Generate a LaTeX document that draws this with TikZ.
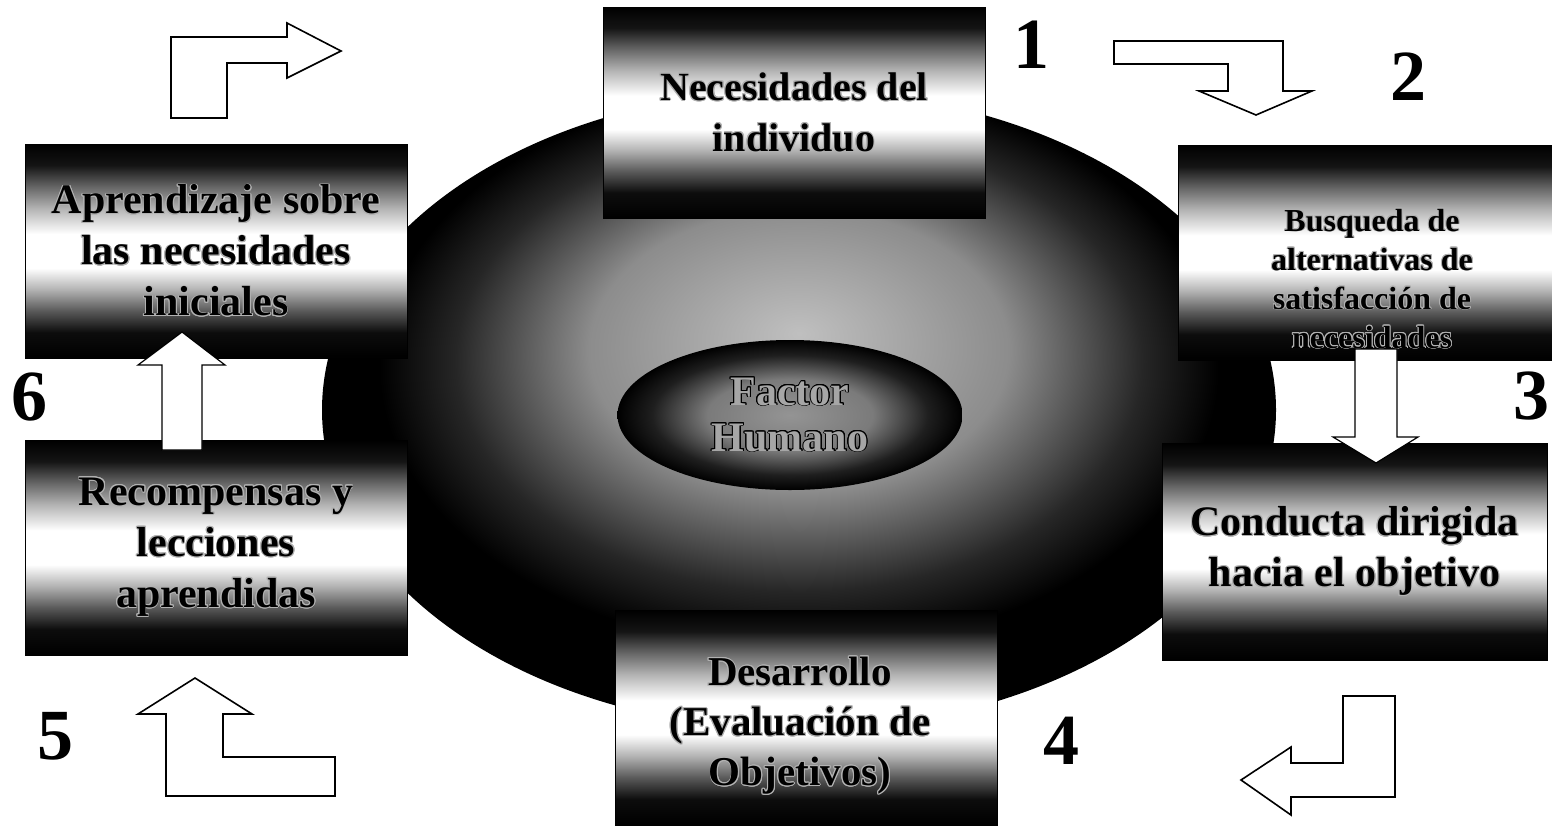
\documentclass[tikz,border=0pt]{standalone}
\usepackage{fontspec}
\setmainfont{Liberation Serif}
\usepackage[copies]{contour}
\contourlength{0.9pt}
\usetikzlibrary{shapes.geometric}
\pgfdeclareverticalshading{bandshade}{100bp}{color(0bp)=(black); color(25bp)=(black); color(31bp)=(black!95); color(36bp)=(black!65); color(41bp)=(black!30); color(46bp)=(white); color(54bp)=(white); color(60bp)=(black!30); color(65bp)=(black!60); color(70bp)=(black!92); color(75bp)=(black); color(100bp)=(black)}
\pgfdeclareradialshading{halo}{\pgfpoint{0bp}{6bp}}{color(0bp)=(black!25); color(11bp)=(black!45); color(18bp)=(black!85); color(22bp)=(black); color(50bp)=(black)}
\pgfdeclareradialshading{core}{\pgfpoint{0bp}{0bp}}{color(0bp)=(black!42); color(12bp)=(black!52); color(20bp)=(black!88); color(25bp)=(black); color(50bp)=(black)}
\newcommand\glow[1]{\contour{black!30}{#1}}
\begin{document}
\begin{tikzpicture}[x=1pt,y=-1pt,
  box/.style={draw=black, line width=0.8pt, shading=bandshade, inner sep=0pt, align=center,
    font=\fontsize{42}{51}\selectfont\bfseries},
  boxtext/.style={inner sep=0pt, align=center, font=\fontsize{41}{50}\selectfont\bfseries},
  num/.style={inner sep=0pt, font=\fontsize{72}{72}\selectfont\bfseries},
  bent/.style={draw=black, line width=1.6pt, fill=white, line join=miter},
  flow/.style={draw=black, line width=1.2pt, fill=white, line join=miter}]
\useasboundingbox (0,0) rectangle (1552,825);
\fill[white] (0,0) rectangle (1552,825);

% big ellipse
\node[ellipse, minimum width=954pt, minimum height=640pt, inner sep=0pt, shading=halo] (outer) at (799,410) {};
% inner ellipse
\node[ellipse, minimum width=345pt, minimum height=150pt, inner sep=0pt, shading=core, align=center,
  font=\fontsize{42}{46}\selectfont\bfseries, text=black!35] (core) at (790,415)
  {\contour{black}{Factor}\\\contour{black}{Humano}};

% boxes
\node[box, minimum width=382pt, minimum height=211pt, font=\fontsize{40}{51}\selectfont\bfseries] (needs) at (794,112.5)
  {\glow{Necesidades del}\\\glow{individuo}};
\node[box, minimum width=375pt, minimum height=215pt] (search) at (1365.5,252.5) {};
\node[boxtext, font=\fontsize{32}{39}\selectfont\bfseries] (searchtxt) at (1372,279)
  {\glow{Busqueda de}\\\glow{alternativas de}\\\glow{satisfacción de}\\\glow{necesidades}};
\node[box, minimum width=385pt, minimum height=217pt] (conduct) at (1354.5,551.5)
  {\glow{Conducta dirigida}\\\glow{hacia el objetivo}};
\node[box, minimum width=382pt, minimum height=215pt] (develop) at (806,717.5) {};
\node[boxtext] (developtxt) at (800,726)
  {\glow{Desarrollo}\\\glow{(Evaluación de}\\\glow{Objetivos)}};
\node[box, minimum width=382pt, minimum height=215pt] (reward) at (216,547.5)
  {\glow{Recompensas y}\\\glow{lecciones}\\\glow{aprendidas}};
\node[box, minimum width=382pt, minimum height=214pt] (learn) at (216,251)
  {\glow{Aprendizaje sobre}\\\glow{las necesidades}\\\glow{iniciales}};

% straight arrows between boxes
\draw[flow] (162,450) -- (162,365) -- (138,365) -- (182,332) -- (225,365) -- (202,365) -- (202,450) -- cycle;
\draw[flow] (1355,349) -- (1397,349) -- (1397,437) -- (1418,437) -- (1376,463) -- (1333,437) -- (1355,437) -- cycle;

% bent arrows
\draw[bent] (171,118) -- (171,37) -- (287,37) -- (287,23) -- (341,51) -- (287,78) -- (287,63) -- (227,63) -- (227,118) -- cycle;
\draw[bent] (1114,41) -- (1283,41) -- (1283,91) -- (1312,91) -- (1256,115) -- (1199,91) -- (1228,91) -- (1228,64) -- (1114,64) -- cycle;
\draw[bent] (1395,696) -- (1343,696) -- (1343,763) -- (1291,763) -- (1291,747) -- (1241,780) -- (1291,815) -- (1291,797) -- (1395,797) -- cycle;
\draw[bent] (195,678) -- (252,714) -- (223,714) -- (223,757) -- (335,757) -- (335,796) -- (166,796) -- (166,714) -- (138,714) -- cycle;

% numbers
\node[num] (n1) at (1031,45) {1};
\node[num] (n2) at (1408,77) {2};
\node[num] (n3) at (1531,396) {3};
\node[num] (n4) at (1061,741) {4};
\node[num] (n5) at (55,736) {5};
\node[num] (n6) at (29,397) {6};
\end{tikzpicture}
\end{document}
